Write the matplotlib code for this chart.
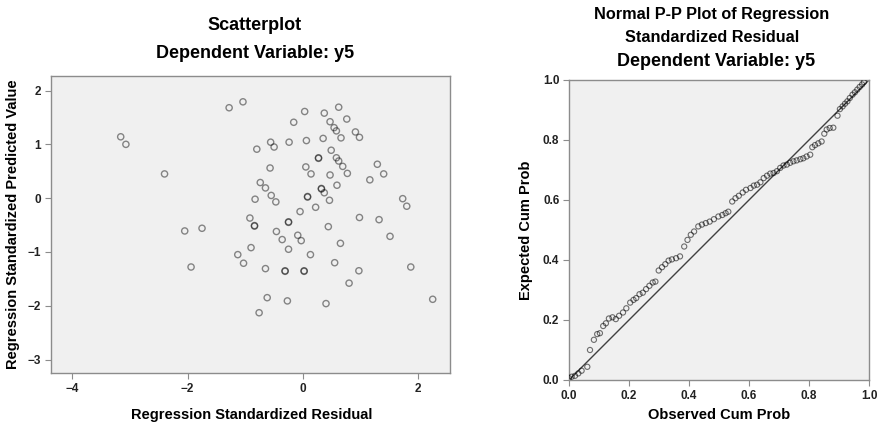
import matplotlib
matplotlib.use("Agg")
import matplotlib.pyplot as plt

plt.rcParams['font.family'] = ['Liberation Sans', 'DejaVu Sans']

# scatterplot: regression standardized residual vs predicted value
resid = [-1.28, -1.04, -3.16, -3.07, -0.80, -2.40, -0.74, -0.83, -0.92, 0.03,
         0.37, 0.62, -0.16, 0.47, 0.76, 0.54, 0.58, 0.91, 0.98, 0.66,
         -0.56, -0.50, -0.24, 0.06, 0.35, 0.49, 0.27, 0.27, 0.58, 0.62,
         0.69, 1.29, 1.40, 1.16, 0.77, -0.57, 0.05, 0.14, 0.47, 0.59,
         -0.65, -0.55, -0.47, 0.32, 0.32, 0.37, 0.46, 0.08, 0.08, 0.22,
         -0.05, -0.25, -0.25, 0.98, 1.32, 1.73, 1.80, 1.87, 2.25, -0.84,
         -0.84, -1.75, -2.05, -1.94, -0.46, 0.44, -0.09, -0.03, -0.36, 1.51,
         -0.90, -0.25, 0.65, -1.13, -1.03, 0.13, -0.65, -0.31, -0.31, 0.02,
         0.02, 0.55, 0.97, 0.80, -0.62, -0.27, 0.40, -0.76]
pred = [1.68, 1.79, 1.14, 1.00, 0.91, 0.45, 0.29, -0.02, -0.37, 1.61,
        1.58, 1.69, 1.41, 1.42, 1.47, 1.31, 1.25, 1.23, 1.13, 1.12,
        1.04, 0.95, 1.04, 1.07, 1.11, 0.89, 0.74, 0.75, 0.75, 0.69,
        0.59, 0.63, 0.45, 0.34, 0.46, 0.56, 0.58, 0.45, 0.43, 0.24,
        0.19, 0.05, -0.07, 0.17, 0.18, 0.10, -0.04, 0.02, 0.03, -0.17,
        -0.25, -0.44, -0.45, -0.36, -0.40, -0.01, -0.15, -1.28, -1.88, -0.51,
        -0.52, -0.56, -0.61, -1.28, -0.62, -0.53, -0.69, -0.79, -0.77, -0.71,
        -0.92, -0.95, -0.84, -1.05, -1.21, -1.05, -1.31, -1.35, -1.36, -1.36,
        -1.35, -1.20, -1.35, -1.58, -1.85, -1.91, -1.96, -2.13]

# normal P-P plot
obs_cum = [0.000, 0.009, 0.020, 0.031, 0.042, 0.061, 0.070, 0.083, 0.094, 0.103,
           0.114, 0.123, 0.133, 0.145, 0.156, 0.167, 0.180, 0.191, 0.204, 0.215,
           0.224, 0.235, 0.246, 0.257, 0.268, 0.279, 0.288, 0.299, 0.310, 0.321,
           0.332, 0.343, 0.357, 0.370, 0.384, 0.395, 0.406, 0.417, 0.431, 0.443,
           0.456, 0.469, 0.483, 0.498, 0.511, 0.522, 0.531, 0.544, 0.555, 0.566,
           0.579, 0.590, 0.605, 0.616, 0.627, 0.638, 0.649, 0.660, 0.671, 0.682,
           0.693, 0.704, 0.715, 0.726, 0.737, 0.748, 0.759, 0.771, 0.781, 0.792,
           0.804, 0.811, 0.820, 0.831, 0.842, 0.851, 0.859, 0.869, 0.881, 0.895,
           0.903, 0.912, 0.920, 0.928, 0.936, 0.945, 0.953, 0.961, 0.969, 0.977,
           0.983]
exp_cum = [0.006, 0.011, 0.014, 0.022, 0.031, 0.044, 0.100, 0.134, 0.153, 0.156,
           0.180, 0.189, 0.205, 0.209, 0.203, 0.214, 0.225, 0.239, 0.258, 0.267,
           0.273, 0.286, 0.291, 0.303, 0.314, 0.325, 0.328, 0.365, 0.376, 0.386,
           0.398, 0.402, 0.406, 0.412, 0.445, 0.467, 0.484, 0.495, 0.512, 0.518,
           0.523, 0.528, 0.536, 0.545, 0.550, 0.556, 0.561, 0.595, 0.606, 0.614,
           0.625, 0.634, 0.640, 0.648, 0.651, 0.659, 0.673, 0.681, 0.688, 0.690,
           0.696, 0.707, 0.715, 0.718, 0.724, 0.729, 0.732, 0.736, 0.739, 0.745,
           0.751, 0.776, 0.783, 0.789, 0.795, 0.821, 0.835, 0.840, 0.841, 0.881,
           0.903, 0.912, 0.921, 0.929, 0.940, 0.951, 0.959, 0.968, 0.977, 0.985,
           0.993]

W, H = 880, 426
fig = plt.figure(figsize=(W / 100, H / 100), dpi=100)
bg = '#f0f0f0'
spine_col = '#8c8c8c'


def style_axes(ax):
    ax.set_facecolor(bg)
    for s in ax.spines.values():
        s.set_color(spine_col)
        s.set_linewidth(1.0)
    ax.tick_params(direction='out', length=4, width=0.8, color=spine_col,
                   labelsize=8.5, labelcolor='#222222', pad=3)


# ---- left: scatterplot
ax1 = fig.add_axes([50.7 / W, (H - 373) / H, (450 - 50.7) / W, (373 - 76) / H])
style_axes(ax1)
ax1.scatter(resid, pred, s=20, facecolors='none',
            edgecolors=(0, 0, 0, 0.45), linewidths=1.0)
ax1.set_xlim(-4.374, 2.55)
ax1.set_ylim(-3.25, 2.27)
ax1.set_xticks([-4, -2, 0, 2])
ax1.set_yticks([-3, -2, -1, 0, 1, 2])
for t in ax1.get_xticklabels() + ax1.get_yticklabels():
    t.set_fontweight('bold')

fig.text(255 / W, 1 - 26 / H, 'Scatterplot', ha='center', va='center',
         fontsize=13, fontweight='bold')
fig.text(255 / W, 1 - 53 / H, 'Dependent Variable: y5', ha='center', va='center',
         fontsize=13, fontweight='bold')
fig.text(252 / W, 1 - 415 / H, 'Regression Standardized Residual', ha='center',
         va='center', fontsize=10.5, fontweight='bold')
fig.text(13 / W, 1 - 224.5 / H, 'Regression Standardized Predicted Value',
         ha='center', va='center', rotation=90, fontsize=10.5, fontweight='bold')

# ---- right: normal P-P plot
ax2 = fig.add_axes([569 / W, (H - 380) / H, 300 / W, 300 / H])
style_axes(ax2)
ax2.plot([0, 1], [0, 1], color='#404040', lw=1.0)
ax2.scatter(obs_cum, exp_cum, s=14, facecolors='none',
            edgecolors=(0, 0, 0, 0.55), linewidths=0.8, zorder=3)
ax2.set_xlim(0, 1)
ax2.set_ylim(0, 1)
ax2.set_xticks([0, 0.2, 0.4, 0.6, 0.8, 1.0])
ax2.set_yticks([0, 0.2, 0.4, 0.6, 0.8, 1.0])
ax2.set_xticklabels(['0.0', '0.2', '0.4', '0.6', '0.8', '1.0'])
ax2.set_yticklabels(['0.0', '0.2', '0.4', '0.6', '0.8', '1.0'])
for t in ax2.get_xticklabels() + ax2.get_yticklabels():
    t.set_fontweight('bold')

fig.text(712 / W, 1 - 15 / H, 'Normal P-P Plot of Regression', ha='center',
         va='center', fontsize=11.7, fontweight='bold')
fig.text(712 / W, 1 - 37 / H, 'Standardized Residual', ha='center',
         va='center', fontsize=11.7, fontweight='bold')
fig.text(716 / W, 1 - 62 / H, 'Dependent Variable: y5', ha='center',
         va='center', fontsize=13, fontweight='bold')
fig.text(719 / W, 1 - 415 / H, 'Observed Cum Prob', ha='center',
         va='center', fontsize=10.5, fontweight='bold')
fig.text(526 / W, 1 - 230 / H, 'Expected Cum Prob', ha='center',
         va='center', rotation=90, fontsize=10.5, fontweight='bold')

fig.savefig('out.png', dpi=100, facecolor='white')
